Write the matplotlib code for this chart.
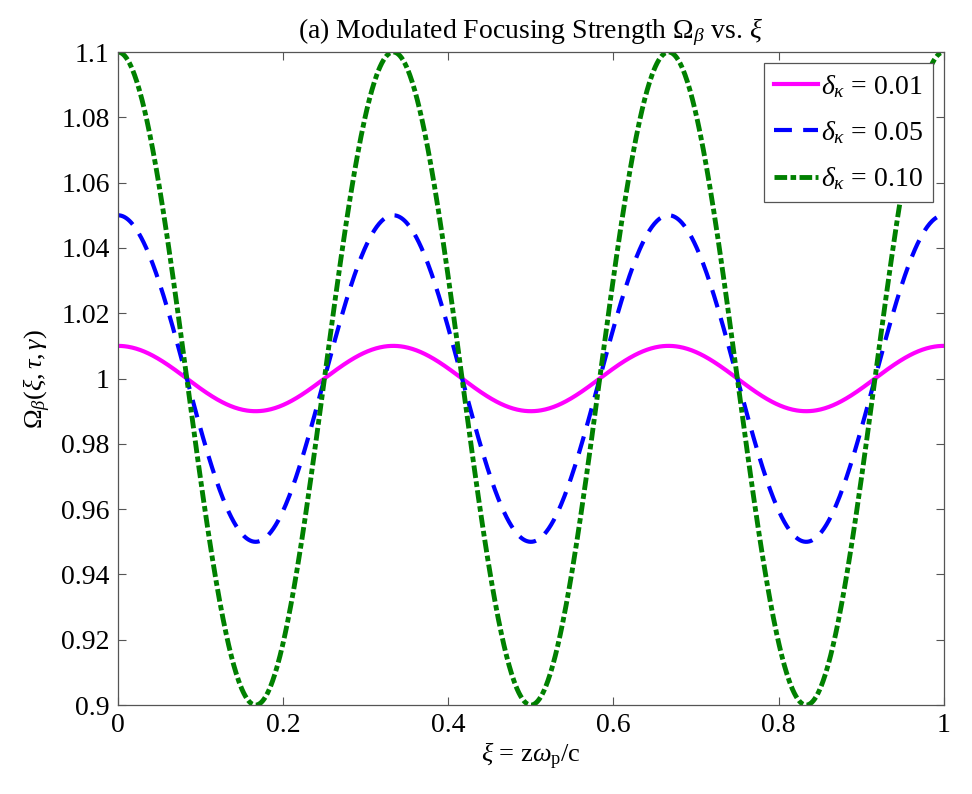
import numpy as np
import matplotlib
matplotlib.use("Agg")
import matplotlib.pyplot as plt

plt.rcParams["font.family"] = ["Liberation Serif", "DejaVu Serif"]
plt.rcParams["mathtext.fontset"] = "custom"
plt.rcParams["mathtext.rm"] = "Liberation Serif"
plt.rcParams["mathtext.it"] = "Liberation Serif:italic"

# modulation amplitudes and spatial frequency of the focusing strength
deltas = [0.01, 0.05, 0.10]
labels = [r"$\delta_{\kappa}$ = 0.01", r"$\delta_{\kappa}$ = 0.05", r"$\delta_{\kappa}$ = 0.10"]
colors = ["#ff00ff", "#0000ff", "#008000"]
dashes = [None, (4.3, 2.7), (2.6, 0.7, 1.15, 0.7)]
widths = [3, 3, 3.5]
k_mod = 3.0  # oscillations per unit xi

xi = np.linspace(0, 1, 1000)

fig = plt.figure(figsize=(9.72, 7.94), dpi=100)
ax = fig.add_axes([0.1214, 0.112, 0.8496, 0.8225])

for d, lab, c, ds, lw in zip(deltas, labels, colors, dashes, widths):
    omega = 1 + d * np.cos(2 * np.pi * k_mod * xi)
    line, = ax.plot(xi, omega, color=c, linewidth=lw, label=lab)
    if ds is not None:
        line.set_dashes(ds)

ax.set_xlim(0, 1)
ax.set_ylim(0.9, 1.1)
ax.set_xticks([0, 0.2, 0.4, 0.6, 0.8, 1])
ax.set_xticklabels(["0", "0.2", "0.4", "0.6", "0.8", "1"])
ax.set_yticks(np.arange(0.9, 1.1001, 0.02))
ax.set_yticklabels(["0.9", "0.92", "0.94", "0.96", "0.98", "1",
                    "1.02", "1.04", "1.06", "1.08", "1.1"])
ax.tick_params(direction="in", top=True, right=True, length=6,
               labelsize=20, color="#555555", pad=6)
for s in ax.spines.values():
    s.set_color("#555555")
    s.set_linewidth(0.9)

ax.set_title(r"(a) Modulated Focusing Strength $\Omega_{\beta}$ vs. $\xi$", fontsize=20, pad=10)
ax.set_xlabel(r"$\xi$ = z$\omega_{\rm p}$/c", fontsize=19, labelpad=2)
ax.set_ylabel(r"$\Omega_{\beta}(\xi,\tau,\gamma)$", fontsize=19, labelpad=6)

leg = ax.legend(loc="upper right", fontsize=20, fancybox=False, framealpha=1,
                edgecolor="#555555", handlelength=1.6, handletextpad=0.1,
                borderaxespad=0.4, borderpad=0.35, labelspacing=0.7)
leg.get_frame().set_linewidth(0.9)

fig.savefig("out.png", dpi=100)
